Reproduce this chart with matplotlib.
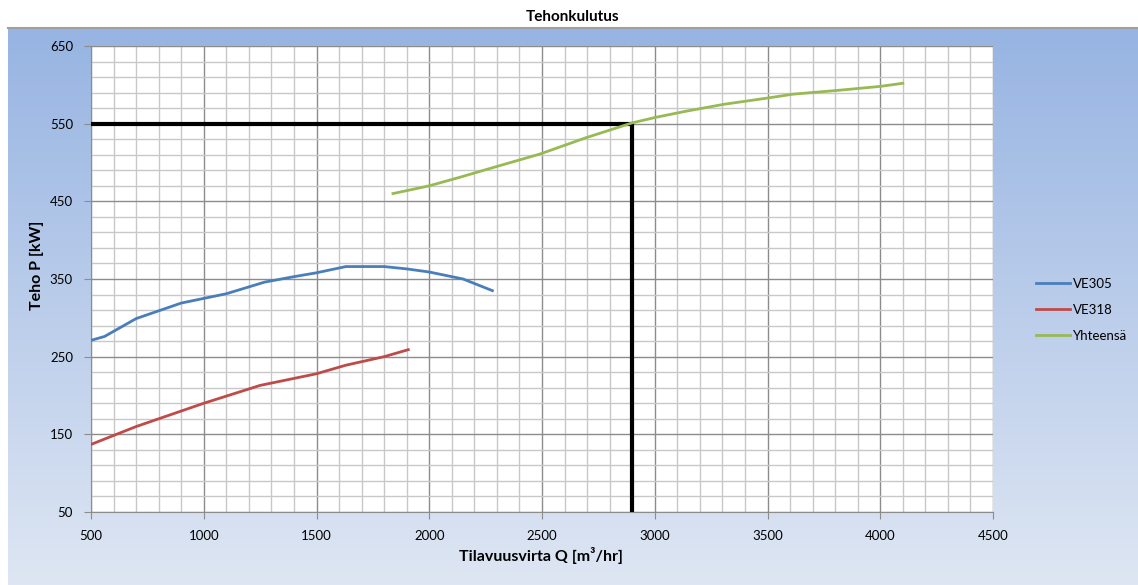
import matplotlib
matplotlib.use('Agg')
import matplotlib.pyplot as plt
import numpy as np
from matplotlib.ticker import MultipleLocator, FixedLocator

plt.rcParams['font.family'] = ['Lato', 'DejaVu Sans']

# VE305
q_ve305 = [500, 560, 700, 900, 1000, 1100, 1270, 1400, 1500, 1630, 1800, 1900, 2000, 2150, 2280]
p_ve305 = [271, 276, 299, 319, 325, 331, 346, 353, 358, 366, 366, 363, 359, 350, 335]
# VE318
q_ve318 = [500, 700, 1000, 1250, 1500, 1630, 1800, 1907]
p_ve318 = [137, 160, 190, 213, 228, 239, 250, 259]
# Yhteensa
q_tot = [1839, 2000, 2136, 2289, 2492, 2696, 2900, 3002, 3138, 3308, 3500, 3614, 3817, 4000, 4100]
p_tot = [460, 470, 481, 494, 511, 532, 551, 558, 566, 575, 583, 588, 593, 598, 602]

# operating point
q_op = 2900
p_op = 550

W, H = 1138, 585
fig = plt.figure(figsize=(W / 100, H / 100), dpi=100)

# gradient background
bg = fig.add_axes([8 / W, 0, 1 - 8 / W, (H - 29) / H])
top = np.array([0.592, 0.706, 0.886])
bot = np.array([0.871, 0.902, 0.953])
t = np.linspace(0, 1, 256)[:, None]
grad = top * (1 - t) + bot * t
bg.imshow(grad[:, None, :], aspect='auto', extent=[0, 1, 0, 1])
bg.set_axis_off()
fig.add_artist(plt.Line2D([8 / W, 1], [(H - 28) / H, (H - 28) / H], color='#a0a0a0', lw=1.5,
                          transform=fig.transFigure))

ax = fig.add_axes([91 / W, 1 - 512 / H, (993 - 91) / W, (512 - 46) / H])
ax.set_facecolor('white')

ax.plot(q_ve305, p_ve305, color='#4a7ebb', lw=2, label='VE305', zorder=4)
ax.plot(q_ve318, p_ve318, color='#be4b48', lw=2, label='VE318', zorder=4)
ax.plot(q_tot, p_tot, color='#98b954', lw=2, label='Yhteensä', zorder=4)

ax.plot([500, q_op], [p_op, p_op], color='black', lw=3, zorder=3, solid_capstyle='butt')
ax.plot([q_op, q_op], [50, p_op], color='black', lw=3, zorder=3, solid_capstyle='butt')

ax.set_xlim(500, 4500)
ax.set_ylim(50, 650)
ax.xaxis.set_major_locator(MultipleLocator(500))
ax.xaxis.set_minor_locator(MultipleLocator(100))
ax.set_yticks(np.arange(50, 651, 100))
ax.yaxis.set_minor_locator(FixedLocator(np.arange(50, 651, 20)))
ax.grid(which='minor', color='#c8c8c8', lw=1)
ax.grid(which='major', color='#8c8c8c', lw=1)
ax.set_axisbelow(True)
ax.tick_params(which='major', direction='out', length=5, color='#8c8c8c', labelsize=9.5, pad=8)
ax.tick_params(which='minor', length=0)
for s in ['top', 'right']:
    ax.spines[s].set_visible(False)
for s in ['left', 'bottom']:
    ax.spines[s].set_color('#8c8c8c')

fig.text(573 / W, 1 - 17 / H, 'Tehonkulutus', ha='center', va='center', fontsize=11, fontweight='bold')
fig.text(541 / W, 1 - 555 / H, 'Tilavuusvirta Q [m³/hr]', ha='center', va='center', fontsize=11.5, fontweight='bold')
fig.text(37 / W, 1 - 265 / H, 'Teho P [kW]', ha='center', va='center', rotation=90, fontsize=11.5, fontweight='bold')

fig.legend(loc='upper left', bbox_to_anchor=(1024 / W, 1 - 266 / H), frameon=False, fontsize=9.5,
           handlelength=2.6, handletextpad=0.2, labelspacing=1.05)

fig.savefig('out.png', dpi=100)
